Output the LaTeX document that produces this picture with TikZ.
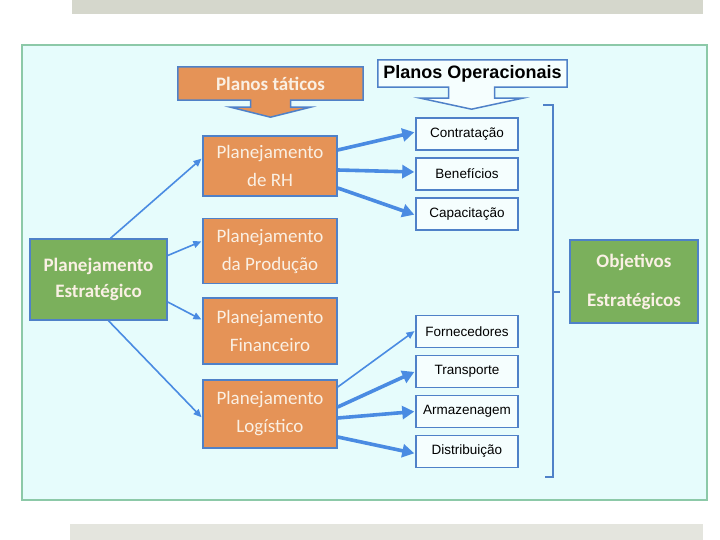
\documentclass[tikz,border=0pt]{standalone}
\usepackage{fontspec}
\setmainfont{Carlito}
\newfontfamily\arialfont{Liberation Sans}
\usetikzlibrary{positioning,arrows.meta,calc,backgrounds}
\definecolor{panelbg}{HTML}{E6FCFC}
\definecolor{panelline}{HTML}{8CC9A8}
\definecolor{orangebox}{HTML}{E59357}
\definecolor{greenbox}{HTML}{7BB05C}
\definecolor{boxline}{HTML}{4F81C8}
\definecolor{arrowblue}{HTML}{4A8BE2}
\definecolor{lighttext}{HTML}{FAF0E4}
\definecolor{bartop}{HTML}{D5D7CC}
\definecolor{barbottom}{HTML}{E4E5DE}

\begin{document}
\begin{tikzpicture}[x=1pt,y=-1pt,node distance=6.5pt,
  plano/.style={draw=boxline,fill=orangebox,line width=1.5pt,minimum width=134pt,
               align=center,inner sep=2pt,text=lighttext,font=\fontsize{19}{28}\selectfont},
  objetivo/.style={draw=boxline,fill=greenbox,line width=1.5pt,align=center,inner sep=2pt,
               text=lighttext,font=\bfseries\fontsize{19}{26}\selectfont},
  acao/.style={draw=boxline,fill=white!60!panelbg,line width=1.5pt,minimum width=102pt,
               minimum height=32pt,inner sep=1pt,font=\arialfont\fontsize{13.5}{15}\selectfont},
  fino/.style={-{Triangle[length=8pt,width=7pt]},arrowblue,line width=1.6pt,shorten >=1pt},
  grosso/.style={-{Triangle[length=12pt,width=13pt]},arrowblue,line width=3.6pt,shorten >=1pt}]
\useasboundingbox (0,0) rectangle (720,540);
\fill[bartop] (72,0) rectangle (703,14);
\fill[barbottom] (70,524) rectangle (703,540);
\begin{scope}[on background layer]
\draw[panelline,fill=panelbg,line width=1.2pt] (22,45) rectangle (707,500);
\end{scope}
% titles
\node[text=lighttext,font=\bfseries\fontsize{19}{21}\selectfont,
      minimum width=185pt,minimum height=33pt,inner sep=0pt] (tatic) at (270.5,83.5) {Planos táticos};
\node[font=\arialfont\bfseries\fontsize{18}{20}\selectfont,
      minimum width=189pt,minimum height=27pt,inner sep=0pt] (oper) at (472.5,73.5) {Planos Operacionais};
% left and right
\node[objetivo,minimum width=137pt,minimum height=81pt] (estr) at (98.5,279.5) {Planejamento\\Estratégico};
\node[objetivo,minimum width=128pt,minimum height=83pt,font=\bfseries\fontsize{19}{39}\selectfont]
      (obj) at (634,281.5) {Objetivos\\Estratégicos};
% tactical plans
\node[plano,minimum height=60pt] (rh) at (270,166) {Planejamento\\de RH};
\node[plano,minimum height=65pt] (prod) at (270,251) {Planejamento\\da Produção};
\node[plano,minimum height=66pt] (fin) at (270,331) {Planejamento\\Financeiro};
\node[plano,minimum height=68pt] (log) at (270,414) {Planejamento\\Logístico};
% operational plans
\node[acao] (cont) at (467,134) {Contratação};
\node[acao,below=of cont] (ben) {Benefícios};
\node[acao,below=of ben] (cap) {Capacitação};
\node[acao] (forn) at (467,331.5) {Fornecedores};
\node[acao,below=of forn] (trans) {Transporte};
\node[acao,below=of trans] (armz) {Armazenagem};
\node[acao,below=of armz] (dist) {Distribuição};
% block arrows under the titles
\begin{scope}[on background layer]
\draw[boxline,fill=orangebox,line width=1.5pt] (tatic.north west) -- (tatic.north east) -- (tatic.south east)
  -- ($(tatic.south)+(20,0)$) -- ++(0,7) -- ++(20,0) -- ($(tatic.south)+(0,17)$)
  -- ($(tatic.south)+(-40,7)$) -- ++(20,0) -- ($(tatic.south)+(-20,0)$) -- (tatic.south west) -- cycle;
\draw[boxline,fill=white!60!panelbg,line width=1.5pt] (oper.north west) -- (oper.north east) -- (oper.south east)
  -- ($(oper.south)+(22,0)$) -- ++(0,11) -- ++(28,0) -- ($(oper.south)+(-1,22)$)
  -- ($(oper.south)+(-52,11)$) -- ++(28,0) -- ($(oper.south)+(-24,0)$) -- (oper.south west) -- cycle;
\end{scope}
% connectors
\draw[fino] ([xshift=12pt]estr.north) -- ([yshift=8pt]rh.west);
\draw[fino] ([yshift=24pt]estr.east) -- ([yshift=10pt]prod.west);
\draw[fino] ([yshift=-22.5pt]estr.east) -- ([yshift=11pt]fin.west);
\draw[fino] ([xshift=10pt]estr.south) -- ([yshift=-4pt]log.west);
\draw[grosso] ([yshift=16pt]rh.east) -- ([yshift=2pt]cont.west);
\draw[grosso] ([yshift=-4pt]rh.east) -- ([yshift=2pt]ben.west);
\draw[grosso] ([yshift=-22pt]rh.east) -- ([yshift=-1pt]cap.west);
\draw[fino] ([yshift=27pt]log.east) -- ([yshift=1pt]forn.west);
\draw[grosso] ([yshift=7pt]log.east) -- (trans.west);
\draw[grosso] ([yshift=-4pt]log.east) -- (armz.west);
\draw[grosso] ([yshift=-23pt]log.east) -- ([yshift=-2pt]dist.west);
% bracket
\draw[boxline,line width=2.2pt] (543,105) -- (553,105) -- (553,477) -- (545,477);
\draw[boxline,line width=2.2pt] (553,292) -- (560,292);
\end{tikzpicture}
\end{document}
